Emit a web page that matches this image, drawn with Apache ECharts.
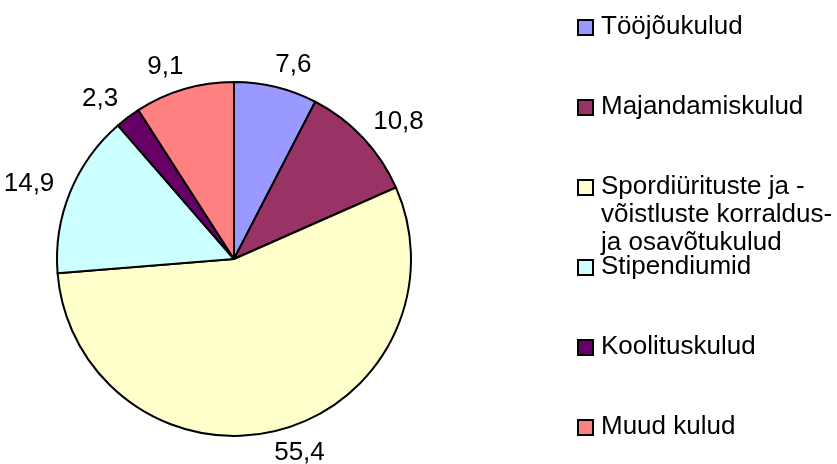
<!DOCTYPE html>
<html style="height: 100%">
<head>
    <meta charset="utf-8">
</head>
<body style="height: 100%; margin: 0; background-color: #fff;">
<div id="container" style="width: 837px; height: 464px;"></div>
<script type="text/javascript" src="https://cdn.jsdelivr.net/npm/echarts@6/dist/echarts.min.js"></script>
<script type="text/javascript">
var categories = ['Tööjõukulud', 'Majandamiskulud', 'Spordiürituste ja -\nvõistluste korraldus-\nja osavõtukulud', 'Stipendiumid', 'Koolituskulud', 'Muud kulud'];
var values = [7.6, 10.8, 55.4, 14.9, 2.3, 9.1];
var colors = ['#9999FF', '#993366', '#FFFFCC', '#CCFFFF', '#660066', '#FF8080'];

var chart = echarts.init(document.getElementById('container'));

var cx = 234, cy = 259, R = 177;
var fontFamily = '"Liberation Sans", Arial, sans-serif';

var total = values.reduce(function (a, b) { return a + b; }, 0);
var midAngles = [];
var acc = 0;
for (var i = 0; i < values.length; i++) {
    midAngles.push((acc + values[i] / 2) / total * Math.PI * 2);
    acc += values[i];
}

// legend drawn as graphic so the wrapped item keeps its marker on the first line
var legendTop = 27, legendStep = 80;
var legendItems = [];
for (var i = 0; i < categories.length; i++) {
    var yc = legendTop + i * legendStep;
    legendItems.push({
        type: 'rect',
        shape: { x: 578, y: yc - 7, width: 15, height: 15 },
        style: { fill: colors[i], stroke: '#000', lineWidth: 2 }
    });
    legendItems.push({
        type: 'text',
        x: 601,
        y: yc - 14,
        style: {
            text: categories[i],
            fill: '#000',
            font: '26px ' + fontFamily,
            lineHeight: 28,
            verticalAlign: 'top'
        }
    });
}

var data = [];
for (var i = 0; i < categories.length; i++) {
    data.push({ name: categories[i], value: values[i], itemStyle: { color: colors[i] } });
}

var option = {
    animation: false,
    backgroundColor: '#fff',
    graphic: legendItems,
    series: [{
        type: 'pie',
        center: [cx, cy],
        radius: R,
        startAngle: 90,
        clockwise: true,
        avoidLabelOverlap: false,
        itemStyle: { borderColor: '#000', borderWidth: 2 },
        emphasis: { disabled: true },
        labelLine: { show: false, length: 0, length2: 0 },
        label: {
            show: true,
            position: 'outside',
            color: '#000',
            fontSize: 26,
            fontFamily: fontFamily,
            overflow: 'none',
            bleedMargin: 0,
            formatter: function (p) { return String(p.value).replace('.', ','); }
        },
        labelLayout: function (params) {
            var a = midAngles[params.dataIndex];
            var s = Math.sin(a), c = Math.cos(a);
            var w = params.labelRect.width / 2;
            return {
                x: cx + (R + 28) * s + 0.6 * w * (s > 0 ? 1 : -1),
                y: cy - (R + 23) * c,
                align: 'center',
                verticalAlign: 'middle'
            };
        },
        data: data
    }]
};

chart.setOption(option);
</script>
</body>
</html>
